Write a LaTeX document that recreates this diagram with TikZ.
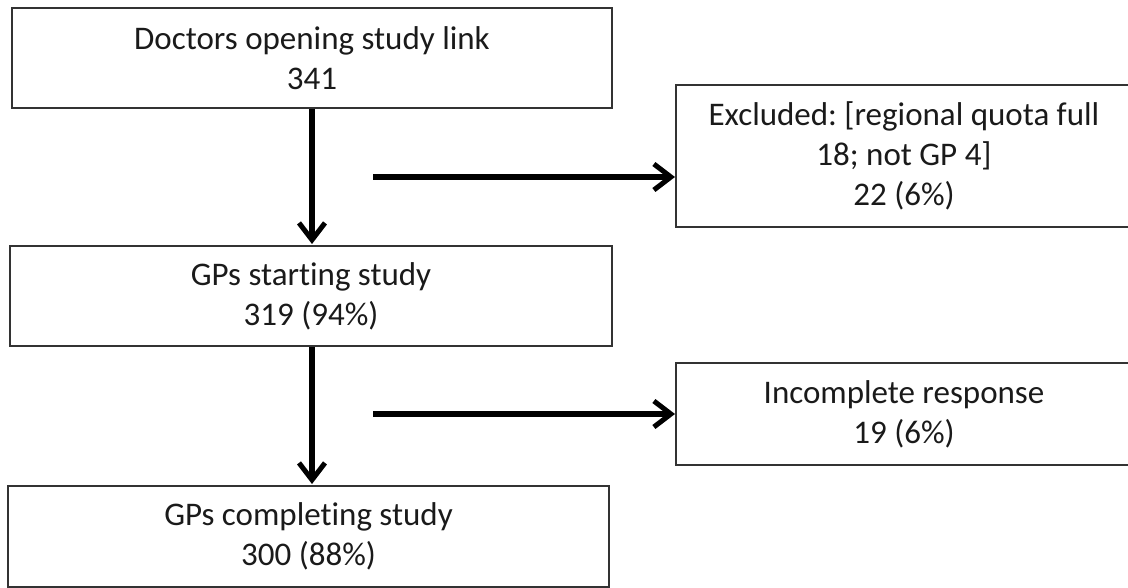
\documentclass[tikz,border=0pt]{standalone}
\usepackage{fontspec}
\setmainfont[Ligatures={NoCommon,NoContextual}, RawFeature={-liga;-dlig}]{Carlito}
\usetikzlibrary{arrows.meta}
\definecolor{boxline}{HTML}{333333}
\definecolor{txt}{HTML}{1A1A1A}
\tikzset{
  flowbox/.style={draw=boxline, line width=2pt, inner sep=0pt, align=center,
    text=txt, font=\frenchspacing\fontsize{33}{40}\selectfont},
  flowarrow/.style={line width=5.5pt, -{Straight Barb[length=17pt, width=26pt, line width=5pt]}}
}
\begin{document}
\begin{tikzpicture}[x=1pt, y=-1pt]
\useasboundingbox (0,0) rectangle (1128,588);
\clip (0,0) rectangle (1128,588);
\node[flowbox, minimum width=600pt, minimum height=100pt] (b1) at (312,58)
  {Doctors opening study link\\341};
\node[flowbox, minimum width=456pt, minimum height=142pt] (b2) at (904,156)
  {Excluded: [regional quota full\\18; not GP 4]\\22 (6\%)};
\node[flowbox, minimum width=602pt, minimum height=100pt] (b3) at (311,296)
  {GPs starting study\\319 (94\%)};
\node[flowbox, minimum width=456pt, minimum height=102pt] (b4) at (904,414)
  {Incomplete response\\19 (6\%)};
\node[flowbox, minimum width=601pt, minimum height=101pt] (b5) at (308.5,536.5)
  {GPs completing study\\300 (88\%)};
\coordinate (h1) at (373,177);
\coordinate (h2) at (373,414);
\draw[flowarrow] (b1.south -| 312,0) -- (312,244);
\draw[flowarrow] (b3.south -| 312,0) -- (312,484);
\draw[flowarrow] (h1) -- (h1 -| b2.west);
\draw[flowarrow] (h2) -- (h2 -| b4.west);
\end{tikzpicture}
\end{document}
